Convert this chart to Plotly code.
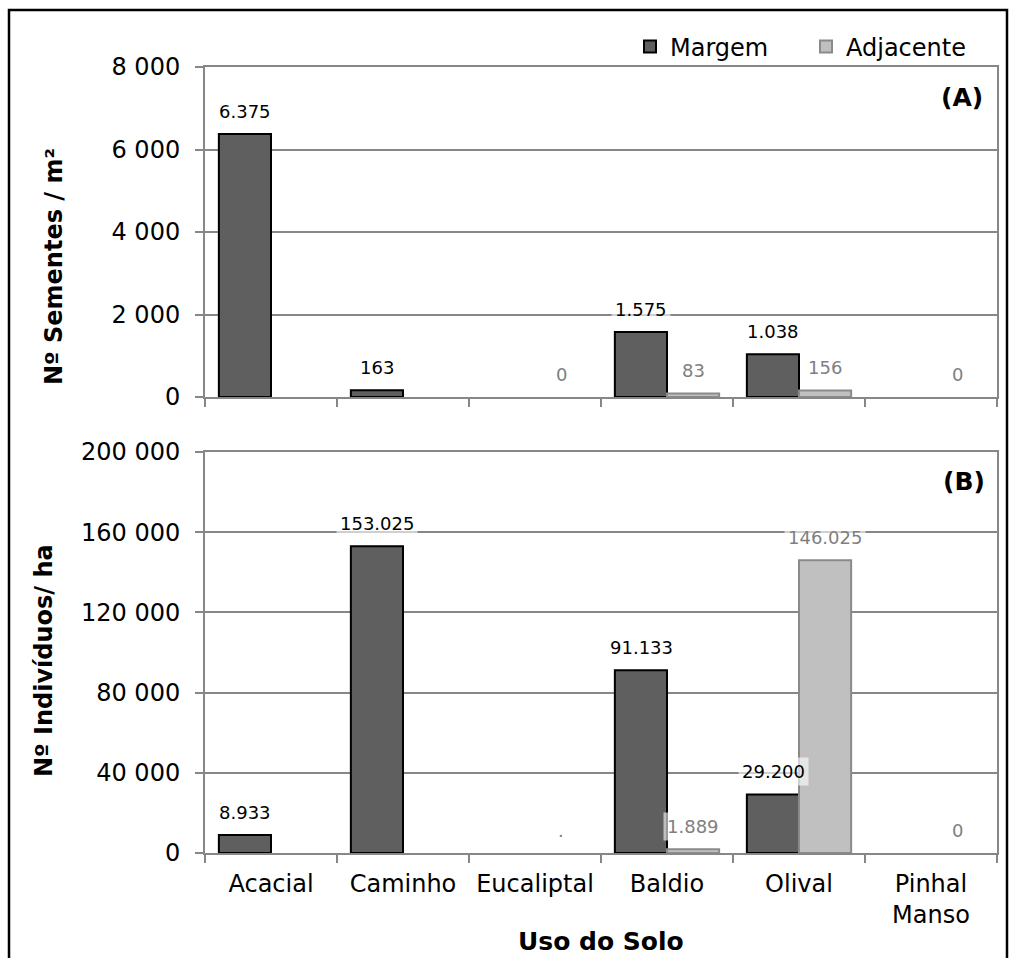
import plotly.graph_objects as go

# Usos do solo (eixo das categorias)
categorias = ["Acacial", "Caminho", "Eucaliptal", "Baldio", "Olival", "Pinhal<br>Manso"]

# (A) Nº de sementes por m2
sementes_margem = [6375, 163, None, 1575, 1038, None]
sementes_adjacente = [None, None, 0, 83, 156, 0]

# (B) Nº de indivíduos por ha
individuos_margem = [8933, 153025, None, 91133, 29200, None]
individuos_adjacente = [None, None, None, 1889, 146025, 0]

# Rótulo especial: ponto para Eucaliptal adjacente em (B)
rotulos_especiais_b_adj = {2: "."}

W, H = 1010, 958
FONTE = "DejaVu Sans"
CINZA = "#878787"
COR_MARGEM = "#5f5f5f"
COR_ADJ = "#c0c0c0"


def px_x(p):
    return p / W


def px_y(p):
    return 1 - p / H


def fmt(v):
    return f"{v:,}".replace(",", ".")


def contorno(valores, cor):
    # sem contorno nas barras de altura nula
    return dict(color=cor, width=[0 if v == 0 else 2 for v in valores])


fig = go.Figure()

fig.add_trace(go.Bar(x=categorias, y=sementes_margem, name="Margem",
                     marker=dict(color=COR_MARGEM, line=contorno(sementes_margem, "#000000")),
                     xaxis="x", yaxis="y", offsetgroup="m", legendgroup="m"))
fig.add_trace(go.Bar(x=categorias, y=sementes_adjacente, name="Adjacente",
                     marker=dict(color=COR_ADJ, line=contorno(sementes_adjacente, "#8a8a8a")),
                     xaxis="x", yaxis="y", offsetgroup="a", legendgroup="a"))
fig.add_trace(go.Bar(x=categorias, y=individuos_margem, name="Margem", showlegend=False,
                     marker=dict(color=COR_MARGEM, line=contorno(individuos_margem, "#000000")),
                     xaxis="x2", yaxis="y2", offsetgroup="m", legendgroup="m"))
fig.add_trace(go.Bar(x=categorias, y=individuos_adjacente, name="Adjacente", showlegend=False,
                     marker=dict(color=COR_ADJ, line=contorno(individuos_adjacente, "#8a8a8a")),
                     xaxis="x2", yaxis="y2", offsetgroup="a", legendgroup="a"))

# Rótulos de dados com fundo branco translúcido
anotacoes = []


def rotular(valores, xref, yref, deslocamento, cor, especiais=None):
    especiais = especiais or {}
    for i, (cat, v) in enumerate(zip(categorias, valores)):
        if v is None and i not in especiais:
            continue
        texto = especiais.get(i, fmt(v) if v is not None else "")
        anotacoes.append(dict(
            x=cat, y=v if v is not None else 0, xref=xref, yref=yref,
            text=texto, showarrow=False, xshift=deslocamento, yshift=23,
            yanchor="middle", xanchor="center",
            font=dict(family=FONTE, size=18, color=cor),
            bgcolor="rgba(255,255,255,0.6)", borderpad=3,
        ))


rotular(sementes_margem, "x", "y", -26, "#000000")
rotular(sementes_adjacente, "x", "y", 26, "#808080")
rotular(individuos_margem, "x2", "y2", -26, "#000000")
rotular(individuos_adjacente, "x2", "y2", 26, "#808080", rotulos_especiais_b_adj)

# Títulos e identificação dos painéis
anotacoes += [
    dict(text="<b>Nº Sementes / m²</b>", x=px_x(54), y=px_y(267), xref="paper", yref="paper",
         textangle=-90, showarrow=False, font=dict(family=FONTE, size=24, color="#000000"),
         xanchor="center", yanchor="middle"),
    dict(text="<b>Nº Indivíduos/ ha</b>", x=px_x(44), y=px_y(661), xref="paper", yref="paper",
         textangle=-90, showarrow=False, font=dict(family=FONTE, size=24, color="#000000"),
         xanchor="center", yanchor="middle"),
    dict(text="<b>Uso do Solo</b>", x=px_x(601), y=px_y(941), xref="paper", yref="paper",
         showarrow=False, font=dict(family=FONTE, size=25, color="#000000"),
         xanchor="center", yanchor="middle"),
    dict(text="<b>(A)</b>", x=px_x(985), y=px_y(98), xref="paper", yref="paper",
         showarrow=False, font=dict(family=FONTE, size=25, color="#000000"),
         xanchor="right", yanchor="middle"),
    dict(text="<b>(B)</b>", x=px_x(987), y=px_y(481), xref="paper", yref="paper",
         showarrow=False, font=dict(family=FONTE, size=25, color="#000000"),
         xanchor="right", yanchor="middle"),
]

eixo_x = dict(type="category", tickson="boundaries", ticks="outside", ticklen=8,
              tickwidth=2, tickcolor=CINZA, showline=True, linecolor=CINZA, linewidth=2,
              mirror=True, showgrid=False, domain=[px_x(205), px_x(997)],
              layer="above traces", automargin=False,
              tickfont=dict(family=FONTE, size=24, color="#000000"))
eixo_y = dict(ticks="outside", ticklen=8, tickwidth=2, tickcolor=CINZA, showline=True,
              linecolor=CINZA, linewidth=2, mirror=True, showgrid=True, gridcolor=CINZA,
              gridwidth=2, zeroline=False, tickformat=",d", ticklabelstandoff=10,
              automargin=False,
              tickfont=dict(family=FONTE, size=24, color="#000000"))

fig.update_layout(
    width=W, height=H,
    margin=dict(l=0, r=0, t=0, b=0, autoexpand=False),
    paper_bgcolor="white", plot_bgcolor="white",
    separators=", ",
    barmode="group", bargap=0.21, bargroupgap=0,
    xaxis=dict(eixo_x, anchor="y", showticklabels=False),
    yaxis=dict(eixo_y, anchor="x", domain=[px_y(397), px_y(67)], range=[0, 8000], dtick=2000),
    xaxis2=dict(eixo_x, anchor="y2", ticklabelstandoff=8),
    yaxis2=dict(eixo_y, anchor="x2", domain=[px_y(853), px_y(452)], range=[0, 200000], dtick=40000),
    legend=dict(orientation="h", x=px_x(630), y=px_y(47), xanchor="left", yanchor="middle",
                entrywidth=131, entrywidthmode="pixels",
                font=dict(family=FONTE, size=24, color="#000000"), bgcolor="rgba(0,0,0,0)",
                traceorder="normal"),
    annotations=anotacoes,
    shapes=[dict(type="rect", xref="paper", yref="paper", x0=px_x(9), x1=px_x(1007),
                 y0=-0.2, y1=px_y(10), line=dict(color="#000000", width=2.5))],
    showlegend=True,
)

fig.write_html("out.html")
